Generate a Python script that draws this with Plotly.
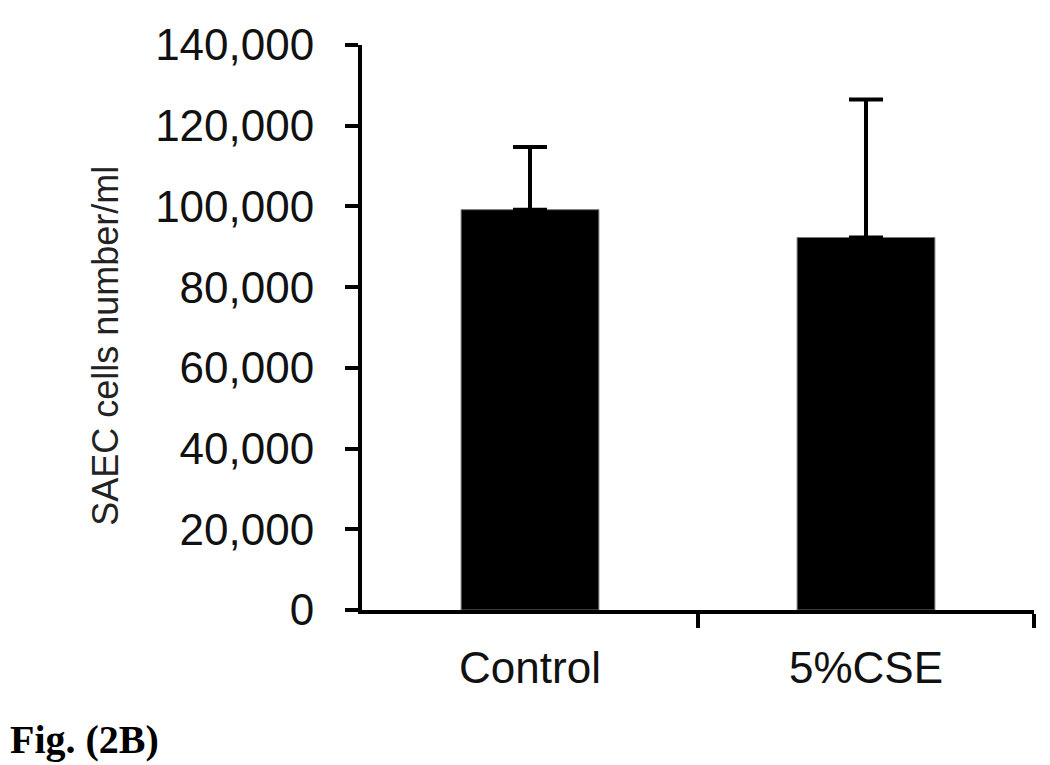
import plotly.graph_objects as go

categories = ["Control", "5%CSE"]
means = [99200, 92300]
sd_upper = [15500, 34200]
y_ticks = [0, 20000, 40000, 60000, 80000, 100000, 120000, 140000]
y_tick_labels = ["0", "20,000", "40,000", "60,000", "80,000", "100,000", "120,000", "140,000"]
y_title = "SAEC cells number/ml"
fig_label = "Fig. (2B)"

# page body has an 8px margin, so the figure is sized/offset to compensate
OFF = 8
W, H = 1050 - OFF, 765 - OFF
L, R, T, B = 362 - OFF, 16, 41 - OFF, 155
plot_w = W - L - R
plot_h = H - T - B


def px_to_paper_x(px):
    return (px - OFF - L) / plot_w


def px_to_paper_y(py):
    return (H - B - (py - OFF)) / plot_h


fig = go.Figure()
fig.add_trace(go.Bar(
    x=[0, 1], y=means, width=0.41,
    marker=dict(color="black", line=dict(color="#777777", width=1)),
    error_y=dict(type="data", symmetric=False, array=sd_upper,
                 arrayminus=[0, 0], color="black", thickness=4, width=17),
))
# invisible trace to carry the category-label axis
fig.add_trace(go.Scatter(x=[0, 1], y=[0, 0], xaxis="x2", mode="markers",
                         marker=dict(opacity=0), hoverinfo="skip"))

fig.update_layout(
    width=W, height=H,
    margin=dict(l=L, r=R, t=T, b=B),
    paper_bgcolor="white", plot_bgcolor="white",
    showlegend=False,
    font=dict(family="Liberation Sans, Arial, sans-serif", color="black"),
    xaxis=dict(
        range=[-0.5, 1.5], tickmode="array", tickvals=[0.5, 1.5],
        ticktext=["", ""], showgrid=False, zeroline=False,
        showline=True, linecolor="black", linewidth=4,
        ticks="outside", ticklen=14, tickwidth=4, tickcolor="black",
    ),
    xaxis2=dict(
        range=[-0.5, 1.5], overlaying="x", side="bottom",
        tickmode="array", tickvals=[0, 1], ticktext=categories,
        showgrid=False, zeroline=False, showline=False, ticks="",
        tickfont=dict(size=44, color="#111111"), ticklabelstandoff=28,
    ),
    yaxis=dict(
        range=[0, 140000], tickmode="array", tickvals=y_ticks,
        ticktext=y_tick_labels, showgrid=False, zeroline=False,
        showline=True, linecolor="black", linewidth=4,
        ticks="outside", ticklen=13, tickwidth=4, tickcolor="black",
        tickfont=dict(size=44, color="#111111"), ticklabelstandoff=22,
    ),
)

# y-axis title (placed slightly below centre, as in the reference)
fig.add_annotation(
    text=y_title, textangle=-90, xref="paper", yref="paper",
    x=px_to_paper_x(106), y=px_to_paper_y(344),
    xanchor="center", yanchor="middle", showarrow=False,
    font=dict(size=36, color="#222222"),
)

fig.add_annotation(
    text="<b>" + fig_label + "</b>", xref="paper", yref="paper",
    x=px_to_paper_x(OFF), y=px_to_paper_y(740),
    xanchor="left", yanchor="middle", showarrow=False,
    font=dict(family="Liberation Serif, Times New Roman, serif", size=40, color="black"),
)

fig.write_html("out.html")
